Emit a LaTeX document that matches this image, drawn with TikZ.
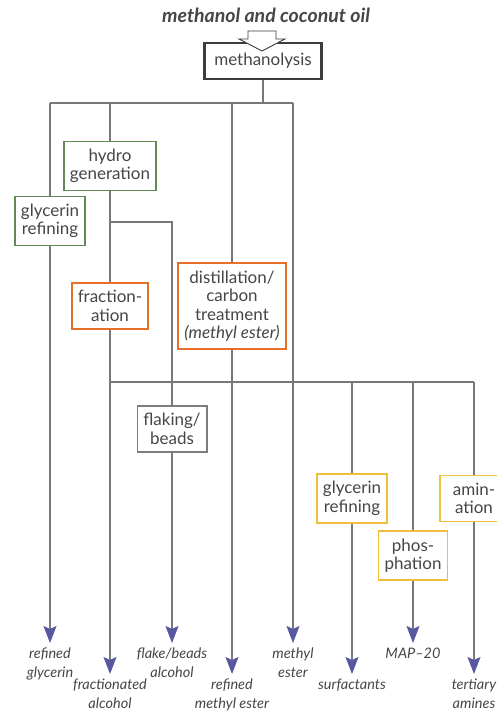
\documentclass[tikz,border=0pt]{standalone}
\usepackage{fontspec}
\setmainfont{Lato}
\usetikzlibrary{arrows.meta}
\definecolor{fc_green}{RGB}{98,138,84}
\definecolor{fc_orange}{RGB}{230,112,40}
\definecolor{fc_yellow}{RGB}{240,190,60}
\definecolor{fc_grey}{RGB}{125,125,125}
\definecolor{fc_dark}{RGB}{60,60,60}
\definecolor{fc_line}{RGB}{120,120,120}
\definecolor{fc_blue}{RGB}{88,88,160}
\definecolor{fc_text}{RGB}{70,70,70}
\tikzstyle{box}=[rectangle,fill=white,draw=fc_grey,line width=1.8pt,align=center,
  inner xsep=6pt,inner ysep=7.5pt,text=fc_text,font=\fontsize{17}{18.5}\selectfont]
\tikzstyle{gb}=[box,draw=fc_green]
\tikzstyle{ob}=[box,draw=fc_orange]
\tikzstyle{yb}=[box,draw=fc_yellow]
\tikzstyle{mb}=[box,draw=fc_dark,line width=2.2pt,minimum width=117pt,minimum height=36pt]
\tikzstyle{prod}=[align=center,inner xsep=2pt,inner ysep=5pt,text=fc_text,anchor=north,
  font=\itshape\fontsize{14.5}{18.5}\selectfont]
\tikzstyle{wire}=[draw=fc_line,line width=1.1pt]
\tikzstyle{arr}=[wire,-{Stealth[length=17pt,width=13pt,inset=3pt,color=fc_blue]}]
\tikzstyle{none}=[inner sep=0pt]

\begin{document}
\begin{tikzpicture}[x=10pt,y=-10pt]
            \useasboundingbox (0,0) rectangle (49.7,72.3);
            \node [text=fc_text,font=\bfseries\itshape\fontsize{19.5}{21}\selectfont] (0) at (26.6, 1.5) {methanol and coconut oil};
            \node [style=mb] (1) at (26.3, 6.1) {methanolysis};
            \node [style=none] (2) at (5.0, 10.3) {};
            \node [style=none] (3) at (11.0, 10.3) {};
            \node [style=none] (4) at (23.2, 10.3) {};
            \node [style=none] (5) at (29.3, 10.3) {};
            \node [style=none] (6) at (26.3, 10.3) {};
            \node [style=gb] (7) at (5.0, 22.1) {glycerin\\refining};
            \node [style=gb] (8) at (11.0, 16.6) {hydro\\generation};
            \node [style=ob] (9) at (11.0, 30.6) {fraction-\\ation};
            \node [style=ob] (10) at (23.2, 30.6) {distillation/\\carbon\\treatment\\\textit{(methyl ester)}};
            \node [style=none] (11) at (11.0, 22.2) {};
            \node [style=none] (12) at (17.2, 22.2) {};
            \node [style=box] (13) at (17.2, 42.9) {flaking/\\beads};
            \node [style=none] (14) at (11.0, 38.2) {};
            \node [style=none] (15) at (47.4, 38.2) {};
            \node [style=none] (16) at (35.2, 38.2) {};
            \node [style=none] (17) at (41.3, 38.2) {};
            \node [style=yb] (18) at (35.2, 49.85) {glycerin\\refining};
            \node [style=yb] (19) at (41.3, 55.55) {phos-\\phation};
            \node [style=yb, minimum width=68pt] (20) at (47.4, 49.85) {amin-\\ation};
            \node [style=prod] (21) at (5.0, 64.3) {refined\\glycerin};
            \node [style=prod] (22) at (11.0, 67.4) {fractionated\\alcohol};
            \node [style=prod] (23) at (17.2, 64.3) {flake/beads\\alcohol};
            \node [style=prod] (24) at (23.2, 67.4) {refined\\methyl ester};
            \node [style=prod] (25) at (29.3, 64.3) {methyl\\ester};
            \node [style=prod] (26) at (35.2, 67.4) {surfactants};
            \node [style=prod] (27) at (41.3, 64.3) {MAP--20};
            \node [style=prod] (28) at (47.4, 67.4) {tertiary\\amines};
            % feed arrow into the first step
            \draw [fill=white, draw=fc_dark, line width=0.9pt] (24.8, 3.1) -- (27.6, 3.1) -- (27.6, 3.9) -- (28.5, 3.9)
                -- (26.2, 5.1) -- (23.9, 3.9) -- (24.8, 3.9) -- cycle;
            \draw [style=wire] (1) to (6.center);
            \draw [style=wire] (2.center) to (5.center);
            \draw [style=wire] (2.center) to (7);
            \draw [style=wire] (3.center) to (8);
            \draw [style=wire] (4.center) to (10);
            \draw [style=wire] (8) to (9);
            \draw [style=wire] (11.center) to (12.center) to (13);
            \draw [style=wire] (14.center) to (15.center);
            \draw [style=wire] (16.center) to (18);
            \draw [style=wire] (17.center) to (19);
            \draw [style=wire] (15.center) to (20);
            \draw [style=arr] (7) to (21);
            \draw [style=arr] (9) to (22);
            \draw [style=arr] (13) to (23);
            \draw [style=arr] (10) to (24);
            \draw [style=arr] (5.center) to (25);
            \draw [style=arr] (18) to (26);
            \draw [style=arr] (19) to (27);
            \draw [style=arr] (20) to (28);
    \end{tikzpicture}
\end{document}
